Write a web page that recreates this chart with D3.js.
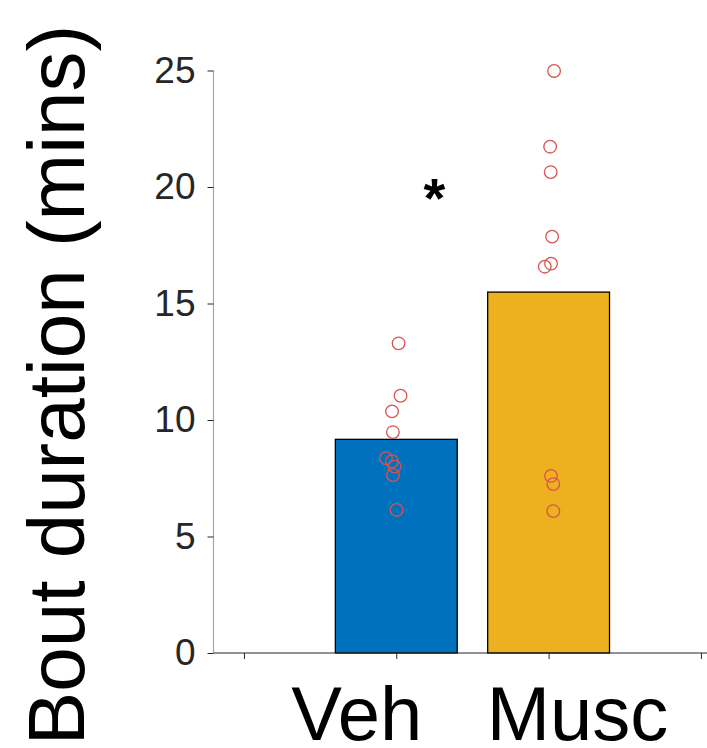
<!DOCTYPE html>
<html>
<head>
<meta charset="utf-8">
<script src="https://cdn.jsdelivr.net/npm/d3@7"></script>
<style>
  html, body { margin: 0; padding: 0; background: #fff; }
  svg { display: block; font-family: "Liberation Sans", Arial, Helvetica, sans-serif; }
</style>
</head>
<body>
<svg id="chart" width="707" height="748"></svg>
<script>
// Groups and their bar heights (group means, minutes)
const groups = ["Veh", "Musc"];
const groupPos = [1, 2];
const labelPos = [0.74, 2.19];
const barMeans = [9.17, 15.49];
const barColors = ["#0072BD", "#EDB120"];

// Individual bout durations (minutes) and their horizontal jitter (x units)
const vehValues  = [13.29, 11.04, 10.37, 9.48, 8.36, 8.23, 8.00, 7.64, 6.14];
const vehJitter  = [0.015, 0.028, -0.028, -0.022, -0.068, -0.028, -0.011, -0.022, 0.002];
const muscValues = [24.98, 21.73, 20.64, 17.87, 16.58, 16.71, 7.60, 7.25, 6.09];
const muscJitter = [0.036, 0.010, 0.014, 0.023, -0.025, 0.016, 0.016, 0.031, 0.031];

// Axis ticks
const yTicks = [0, 5, 10, 15, 20, 25];
const xTicks = [0, 1, 2, 3];

// Significance marker
const starPos = [1.25, 20.5];

const svg = d3.select("#chart");

const x = d3.scaleLinear().domain([-0.2, 3.04]).range([213.5, 707]);
const y = d3.scaleLinear().domain([0, 25]).range([653, 70.5]);

const barWidth = 0.8;

// Bars
svg.append("g").selectAll("rect")
  .data(groups.map((g, i) => ({ g, pos: groupPos[i], v: barMeans[i], c: barColors[i] })))
  .join("rect")
  .attr("x", d => x(d.pos - barWidth / 2))
  .attr("width", d => x(d.pos + barWidth / 2) - x(d.pos - barWidth / 2))
  .attr("y", d => y(d.v))
  .attr("height", d => y(0) - y(d.v))
  .attr("fill", d => d.c)
  .attr("stroke", "#000")
  .attr("stroke-width", 1.3);

// Individual points
const pts = []
  .concat(vehValues.map((v, i) => ({ xv: groupPos[0] + vehJitter[i], v })))
  .concat(muscValues.map((v, i) => ({ xv: groupPos[1] + muscJitter[i], v })));

svg.append("g").selectAll("circle")
  .data(pts)
  .join("circle")
  .attr("cx", d => x(d.xv))
  .attr("cy", d => y(d.v))
  .attr("r", 6.3)
  .attr("fill", "none")
  .attr("stroke", "#D9534F")
  .attr("stroke-width", 1.3);

// Y axis
const yAxis = svg.append("g")
  .attr("transform", `translate(${x(-0.2)},0)`)
  .call(d3.axisLeft(y).tickValues(yTicks).tickSize(6).tickPadding(12).tickFormat(d3.format("d")));
yAxis.select(".domain").attr("stroke", "#a6a6a6").attr("stroke-width", 1.2).attr("d", `M0,${y(0)}V${y(25)}`);
yAxis.selectAll(".tick line").attr("stroke", "#262626");
yAxis.selectAll(".tick text")
  .attr("fill", "#262626")
  .style("font-size", "37px")
  .style("font-family", "'Liberation Sans', Arial, sans-serif");

// X axis
const xAxis = svg.append("g")
  .attr("transform", `translate(0,${y(0)})`)
  .call(d3.axisBottom(x).tickValues(xTicks).tickSize(6).tickFormat(""));
xAxis.select(".domain").attr("stroke", "#262626").attr("stroke-width", 1.2).attr("d", `M${x(-0.2)},0H707`);
xAxis.selectAll(".tick line").attr("stroke", "#262626");

// Group labels
svg.append("g").selectAll("text")
  .data(groups.map((g, i) => ({ g, pos: labelPos[i] })))
  .join("text")
  .attr("x", d => x(d.pos))
  .attr("y", 740)
  .attr("text-anchor", "middle")
  .attr("fill", "#000")
  .style("font-size", "76px")
  .text(d => d.g);

// Y axis title
svg.append("text")
  .attr("transform", `translate(84,385) rotate(-90)`)
  .attr("text-anchor", "middle")
  .attr("fill", "#000")
  .style("font-size", "80px")
  .text("Bout duration (mins)");

// Significance asterisk
svg.append("text")
  .attr("x", x(starPos[0]))
  .attr("y", y(starPos[1]))
  .attr("dy", "0.75em")
  .attr("text-anchor", "middle")
  .attr("fill", "#000")
  .style("font-size", "56px")
  .style("font-weight", "bold")
  .text("*");
</script>
</body>
</html>
